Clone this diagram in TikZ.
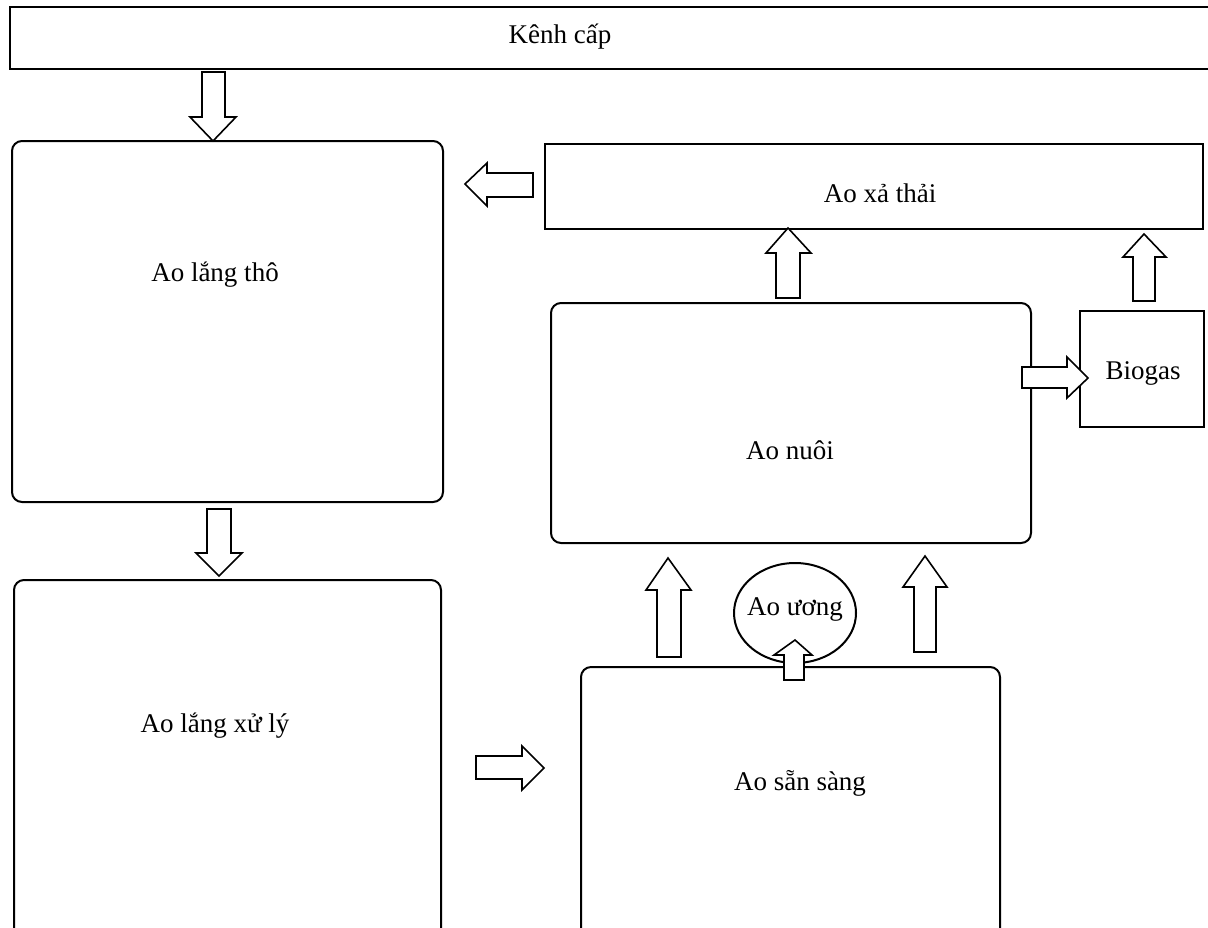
\documentclass[tikz,border=0pt]{standalone}
\usepackage{fontspec}
\setmainfont{Liberation Serif}
\begin{document}
\begin{tikzpicture}[x=0.5pt,y=-0.5pt,
  box/.style={draw=black,line width=1pt,rounded corners=5pt},
  sbox/.style={draw=black,line width=1pt},
  barrow/.style={draw=black,line width=0.8pt,fill=white,line join=miter},
  lbl/.style={font=\fontsize{13.5}{16}\selectfont,inner sep=0pt}]
\useasboundingbox (0,0) rectangle (1208,927);
\clip (0,0) rectangle (1208,927);
% boxes
\draw[sbox] (10,7) rectangle (1220,69);
\node[lbl] (kenh) at (560,37) {Kênh cấp};
\draw[box] (12,141) rectangle (443,502);
\node[lbl] (lt) at (215,275) {Ao lắng thô};
\draw[box] (14,580) rectangle (441,960);
\node[lbl] (lx) at (215,726) {Ao lắng xử lý};
\draw[sbox] (545,144) rectangle (1203,229);
\node[lbl] (xt) at (880,193) {Ao xả thải};
\draw[box] (551,303) rectangle (1031,543);
\node[lbl] (nuoi) at (790,450) {Ao nuôi};
\draw[sbox] (1080,311) rectangle (1204,427);
\node[lbl] (bio) at (1143,373) {Biogas};
\draw[box] (581,667) rectangle (1000,960);
\node[lbl] (ss) at (800,783) {Ao sẵn sàng};
\draw[sbox,fill=white] (795,613) ellipse [x radius=61, y radius=50];
\node[lbl] (uong) at (795,609) {Ao ương};
% block arrows: down
\draw[barrow] (202,72) -- (202,117) -- (190,117) -- (213,141) -- (236,117) -- (225,117) -- (225,72) -- cycle;
\draw[barrow] (207,509) -- (207,553) -- (196,553) -- (219,576) -- (242,553) -- (231,553) -- (231,509) -- cycle;
% right
\draw[barrow] (476,756) -- (522,756) -- (522,746) -- (544,768) -- (522,790) -- (522,779) -- (476,779) -- cycle;
\draw[barrow] (1022,367) -- (1067,367) -- (1067,357) -- (1088,378) -- (1067,398) -- (1067,388) -- (1022,388) -- cycle;
% left
\draw[barrow] (533,173) -- (487,173) -- (487,163) -- (465,184) -- (487,206) -- (487,197) -- (533,197) -- cycle;
% up
\draw[barrow] (657,657) -- (657,590) -- (646,590) -- (668,558) -- (691,590) -- (681,590) -- (681,657) -- cycle;
\draw[barrow] (914,652) -- (914,587) -- (903,587) -- (925,556) -- (947,587) -- (936,587) -- (936,652) -- cycle;
\draw[barrow] (784,680) -- (784,655) -- (774,655) -- (795,640) -- (812,655) -- (804,655) -- (804,680) -- cycle;
\draw[barrow] (776,298) -- (776,253) -- (766,253) -- (788,228) -- (811,253) -- (800,253) -- (800,298) -- cycle;
\draw[barrow] (1133,301) -- (1133,257) -- (1123,257) -- (1144,234) -- (1166,257) -- (1155,257) -- (1155,301) -- cycle;
\end{tikzpicture}
\end{document}
